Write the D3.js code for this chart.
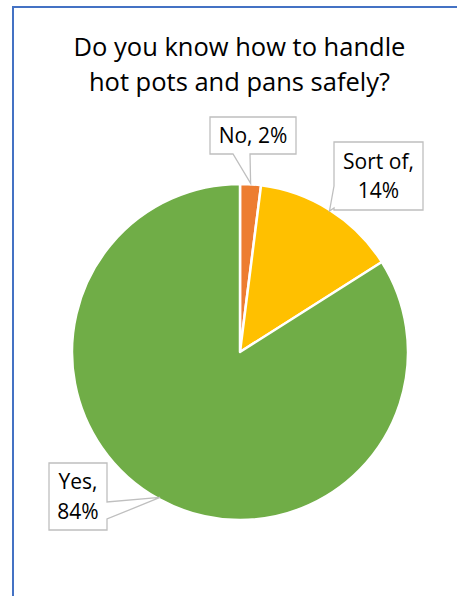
<!DOCTYPE html>
<html>
<head>
<meta charset="utf-8">
<script src="https://cdn.jsdelivr.net/npm/d3@7"></script>
<style>
  html, body { margin: 0; padding: 0; background: #fff; }
  svg { display: block; }
</style>
</head>
<body>
<svg id="chart" width="457" height="596"></svg>
<script>
// Survey answers and their shares (percent)
const categories = ["No", "Sort of", "Yes"];
const shares = [2, 14, 84];
const sliceColors = ["#ED7D31", "#FFC000", "#70AD47"];
const labelLines = [["No, 2%"], ["Sort of,", "14%"], ["Yes,", "84%"]];
const titleLines = ["Do you know how to handle", "hot pots and pans safely?"];

const W = 457, H = 596;
const svg = d3.select("#chart");
const font = "'Open Sans', sans-serif";

// chart frame
svg.append("rect")
  .attr("x", 13).attr("y", 7)
  .attr("width", W - 13 + 2).attr("height", H)
  .attr("fill", "#fff")
  .attr("stroke", "#4472C4").attr("stroke-width", 2);

// title
svg.append("g").selectAll("text").data(titleLines).join("text")
  .attr("x", 239.5).attr("y", (d, i) => 56 + i * 35)
  .attr("text-anchor", "middle")
  .attr("font-family", font).attr("font-size", 25.5)
  .attr("fill", "#000")
  .text(d => d);

// pie
const cx = 240, cy = 352, R = 168;
const pie = d3.pie().sort(null).value(d => d.v);
const data = categories.map((c, i) => ({ c, v: shares[i], color: sliceColors[i], lines: labelLines[i] }));
const arcs = pie(data);
const arc = d3.arc().innerRadius(0).outerRadius(R);

const g = svg.append("g").attr("transform", `translate(${cx},${cy})`);
g.selectAll("path").data(arcs).join("path")
  .attr("d", arc)
  .attr("fill", d => d.data.color)
  .attr("stroke", "#fff").attr("stroke-width", 2.5)
  .attr("stroke-linejoin", "round");

// callout boxes: box geometry on the page and the side the pointer leaves from
const boxes = [
  { x: 210, y: 117, w: 86, h: 37, side: "bottom", b0: 233, b1: 250, tipR: R + 1 },
  { x: 334, y: 142, w: 89, h: 68, side: "left", b0: 186, b1: 208, tipR: R - 1 },
  { x: 49, y: 463, w: 58, h: 67, side: "right", b0: 502, b1: 519, tipR: R - 2 }
];

function calloutPath(b, tip) {
  const x0 = b.x, y0 = b.y, x1 = b.x + b.w, y1 = b.y + b.h;
  const p = d3.path();
  p.moveTo(x0, y0);
  p.lineTo(x1, y0);
  if (b.side === "right") {
    p.lineTo(x1, b.b0); p.lineTo(tip[0], tip[1]); p.lineTo(x1, b.b1);
  }
  p.lineTo(x1, y1);
  if (b.side === "bottom") {
    p.lineTo(b.b1, y1); p.lineTo(tip[0], tip[1]); p.lineTo(b.b0, y1);
  }
  p.lineTo(x0, y1);
  if (b.side === "left") {
    p.lineTo(x0, b.b1); p.lineTo(tip[0], tip[1]); p.lineTo(x0, b.b0);
  }
  p.closePath();
  return p.toString();
}

const labels = svg.append("g");
arcs.forEach((a, i) => {
  const b = boxes[i];
  const mid = (a.startAngle + a.endAngle) / 2;
  const tip = [cx + b.tipR * Math.sin(mid), cy - b.tipR * Math.cos(mid)];
  labels.append("path")
    .attr("d", calloutPath(b, tip))
    .attr("fill", "#fff")
    .attr("stroke", "#BFBFBF").attr("stroke-width", 1.3);
  const n = a.data.lines.length;
  const lh = 29.5;
  const firstBase = b.y + b.h / 2 - (n - 1) * lh / 2 + 7.5;
  labels.selectAll(null).data(a.data.lines).enter().append("text")
    .attr("x", b.x + b.w / 2)
    .attr("y", (d, j) => firstBase + j * lh)
    .attr("text-anchor", "middle")
    .attr("font-family", font).attr("font-size", 21)
    .attr("fill", "#000")
    .text(d => d);
});
</script>
</body>
</html>
